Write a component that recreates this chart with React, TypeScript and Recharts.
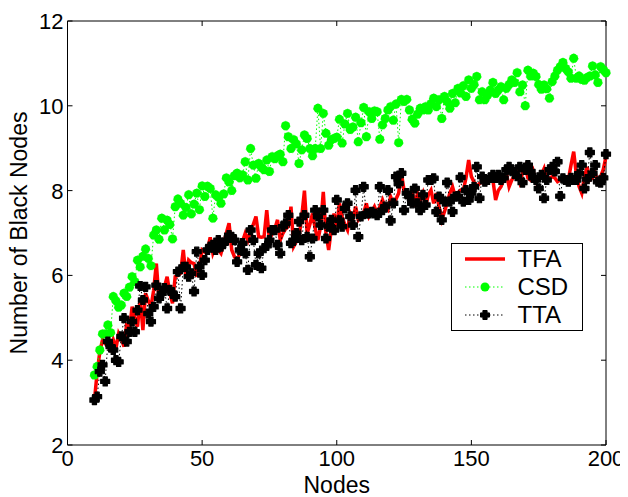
import { LineChart, Line, XAxis, YAxis, ReferenceLine, Legend } from 'recharts';

const firstNode = 10;

const tfa = [
  3.06, 3.7, 4.2, 4.48, 4.4, 4.3, 4.24, 4.48, 4.28, 4.63,
  4.5, 4.32, 4.87, 4.71, 5.26, 5.0, 4.79, 5.46, 4.71, 5.58,
  5.4, 5.26, 5.65, 6.28, 5.42, 5.6, 5.73, 5.97, 5.58, 5.34,
  5.97, 6.0, 6.05, 6.6, 5.97, 6.36, 6.3, 6.28, 5.97, 6.2,
  6.6, 6.55, 6.6, 6.9, 6.52, 6.68, 6.6, 6.52, 6.75, 7.0,
  7.23, 6.6, 6.44, 6.36, 6.52, 6.8, 6.99, 6.83, 7.07, 7.2,
  7.39, 6.91, 6.9, 6.91, 7.54, 6.83, 6.99, 7.1, 7.31, 6.83,
  6.99, 7.1, 7.15, 7.62, 6.68, 6.8, 6.91, 7.39, 8.0, 6.99,
  7.2, 7.46, 7.1, 6.83, 7.15, 7.97, 6.99, 6.6, 7.1, 7.46,
  7.15, 7.7, 7.39, 7.2, 7.07, 7.46, 7.31, 7.62, 7.31, 7.4,
  7.46, 7.7, 7.39, 7.5, 7.62, 7.46, 7.62, 7.78, 7.6, 7.54,
  7.86, 7.7, 7.8, 7.94, 8.41, 8.01, 7.9, 7.78, 8.01, 7.62,
  7.94, 7.78, 7.94, 7.62, 7.9, 8.01, 7.7, 7.94, 7.62, 7.31,
  7.5, 7.7, 7.94, 8.09, 7.86, 7.95, 8.01, 8.0, 8.3, 8.72,
  8.33, 8.2, 8.09, 8.17, 8.2, 8.25, 8.3, 8.33, 8.25, 7.78,
  8.0, 8.09, 8.25, 8.41, 8.09, 8.25, 8.35, 8.49, 8.21, 8.41,
  8.56, 8.3, 8.25, 8.45, 8.21, 8.3, 8.37, 8.52, 8.25, 8.3,
  8.33, 8.3, 8.21, 8.25, 8.33, 8.3, 8.25, 8.6, 8.92, 8.37,
  8.1, 7.94, 8.33, 8.56, 8.25, 8.3, 8.41, 8.21, 8.33, 8.5,
  8.8,
];

const csd = [
  3.65, 3.85, 4.24, 4.62, 4.62, 4.83, 4.65, 5.5, 5.4, 5.25,
  5.3, 5.58, 5.5, 5.72, 5.97, 5.85, 6.36, 6.2, 6.45, 6.62,
  6.4, 6.23, 6.95, 7.07, 6.85, 7.35, 7.07, 7.3, 7.2, 6.86,
  7.62, 7.8, 7.7, 7.42, 7.6, 7.9, 7.45, 7.68, 7.94, 7.55,
  8.11, 7.86, 8.1, 8.05, 7.35, 7.9, 7.85, 7.7, 7.92, 8.3,
  8.2, 8.0, 8.35, 8.41, 8.3, 8.37, 8.68, 8.25, 8.99, 8.6,
  8.29, 8.64, 8.55, 8.49, 8.72, 8.45, 8.8, 8.75, 8.82, 8.86,
  8.68, 9.53, 9.27, 8.99, 9.2, 9.1, 8.64, 8.96, 9.31, 9.23,
  8.99, 8.82, 8.99, 9.94, 8.99, 9.82, 9.35, 9.07, 9.2, 9.23,
  9.26, 9.68, 9.12, 9.57, 9.82, 9.44, 9.5, 9.73, 9.15, 9.6,
  9.96, 9.27, 9.86, 9.7, 9.88, 9.86, 9.21, 9.55, 9.7, 9.9,
  9.98, 9.66, 10.04, 9.13, 10.15, 10.1, 10.15, 9.9, 9.68, 9.59,
  9.8, 9.94, 9.9, 9.98, 9.9, 10.05, 10.18, 9.98, 10.14, 9.7,
  10.22, 10.1, 9.94, 10.29, 10.07, 10.41, 10.3, 10.47, 10.22, 10.61,
  10.41, 10.5, 10.69, 10.14, 10.33, 10.14, 10.25, 10.37, 10.55, 10.29,
  10.37, 10.45, 10.14, 10.41, 10.5, 10.61, 10.55, 10.78, 10.33, 10.49,
  10.0, 10.84, 10.7, 10.77, 10.69, 10.5, 10.39, 10.49, 10.4, 10.18,
  10.57, 10.7, 10.84, 10.92, 11.02, 10.88, 10.8, 10.65, 11.12, 10.65,
  10.7, 10.62, 10.6, 10.67, 10.7, 10.94, 10.73, 10.55, 10.92, 10.85,
  10.78,
];

const tta = [
  3.06, 3.14, 3.73, 3.89, 3.5, 4.44, 4.32, 4.24, 4.0, 3.96,
  4.56, 4.99, 4.44, 4.67, 4.91, 4.67, 5.18, 5.75, 5.42, 5.73,
  5.1, 4.91, 5.26, 5.77, 5.46, 5.58, 5.7, 5.22, 5.66, 5.58,
  5.5, 6.09, 5.22, 6.2, 6.2, 5.97, 6.05, 5.62, 6.56, 6.2,
  6.01, 6.36, 6.6, 6.68, 6.72, 6.6, 6.83, 6.68, 6.76, 6.83,
  6.95, 6.91, 6.83, 6.32, 6.6, 6.76, 6.52, 6.13, 7.07, 6.83,
  6.25, 6.52, 6.17, 6.64, 6.7, 6.83, 7.07, 7.07, 6.72, 6.52,
  7.15, 7.23, 7.42, 6.76, 6.83, 7.0, 7.27, 6.83, 7.42, 6.91,
  6.44, 6.87, 7.54, 7.39, 7.19, 7.54, 6.87, 7.15, 7.31, 7.07,
  7.78, 7.3, 7.15, 7.58, 7.7, 7.39, 7.19, 8.01, 6.91, 7.39,
  8.09, 7.46, 7.46, 7.5, 7.46, 7.42, 8.09, 7.54, 7.62, 8.01,
  7.29, 7.7, 8.33, 8.17, 8.41, 7.54, 7.94, 7.86, 7.7, 8.05,
  7.7, 7.54, 7.9, 7.66, 8.25, 8.25, 8.29, 7.5, 7.86, 7.31,
  7.74, 8.19, 7.74, 7.5, 7.86, 7.87, 8.31, 7.74, 8.01, 7.78,
  7.94, 8.09, 8.56, 7.82, 8.33, 8.21, 8.25, 8.3, 8.37, 8.3,
  8.37, 8.25, 8.3, 8.49, 8.56, 8.49, 8.4, 8.34, 8.56, 8.19,
  8.49, 8.6, 8.45, 8.3, 8.25, 8.05, 8.37, 7.82, 8.25, 8.49,
  8.56, 8.45, 8.68, 7.87, 8.29, 8.25, 8.21, 8.3, 8.25, 8.25,
  8.4, 8.6, 8.05, 8.27, 8.9, 8.41, 8.6, 8.21, 8.19, 8.3,
  8.86,
];

const xTicks = [0, 50, 100, 150, 200];
const yTicks = [2, 4, 6, 8, 10, 12];

const data = tfa.map((v, i) => ({ nodes: firstNode + i, TFA: v, CSD: csd[i], TTA: tta[i] }));

const W = 628;
const H = 497;
const margin = { top: 21, right: 22, bottom: 0, left: 7.5 };
const yAxisW = 60;
const xAxisH = 52;
const plotTop = margin.top;
const plotRight = W - margin.right;
const font = '"Liberation Sans", Arial, Helvetica, sans-serif';
const green = '#00ff00';

// MATLAB style: ticks point inward and repeat on the opposite side
const XTick = (props: any) => {
  const { x, y, payload } = props;
  return (
    <g>
      <line x1={x} y1={y} x2={x} y2={y - 5} stroke="#000" />
      <line x1={x} y1={plotTop} x2={x} y2={plotTop + 5} stroke="#000" />
      <text x={x} y={y + 21} textAnchor="middle" fontSize={22} fontFamily={font} fill="#000">
        {payload.value}
      </text>
    </g>
  );
};

const YTick = (props: any) => {
  const { x, y, payload } = props;
  return (
    <g>
      <line x1={x} y1={y} x2={x + 5} y2={y} stroke="#000" />
      <line x1={plotRight} y1={y} x2={plotRight - 5} y2={y} stroke="#000" />
      <text x={x - 4} y={y + 8} textAnchor="end" fontSize={22} fontFamily={font} fill="#000">
        {payload.value}
      </text>
    </g>
  );
};

const plusPath = (cx: number, cy: number) => {
  const a = 4.5;
  const t = 2.1;
  return `M${cx - t},${cy - a}H${cx + t}V${cy - t}H${cx + a}V${cy + t}H${cx + t}V${cy + a}H${cx - t}V${cy + t}H${cx - a}V${cy - t}H${cx - t}Z`;
};

const PlusDot = (props: any) => {
  const { cx, cy, index } = props;
  if (cx == null || cy == null) return <g key={`tta-${index}`} />;
  return (
    <path
      key={`tta-${index}`}
      d={plusPath(cx, cy)}
      fill="#000"
      stroke="#000"
      strokeWidth={1.2}
      strokeLinejoin="round"
    />
  );
};

const LegendBox = () => {
  const rows = [
    { name: 'TFA', kind: 'tfa' },
    { name: 'CSD', kind: 'csd' },
    { name: 'TTA', kind: 'tta' },
  ];
  return (
    <div
      style={{
        position: 'relative',
        width: 132,
        height: 88,
        border: '1px solid #000',
        background: '#fff',
        boxSizing: 'border-box',
        fontFamily: font,
        fontSize: 24,
        color: '#000',
      }}
    >
      {rows.map((r, i) => (
        <div
          key={r.name}
          style={{ position: 'absolute', left: 0, top: 1 + i * 28, height: 28, width: 130, display: 'flex', alignItems: 'center' }}
        >
          <svg width={42} height={14} style={{ position: 'absolute', left: 12, top: 7 }}>
            {r.kind === 'tfa' && <line x1={1} y1={7} x2={41} y2={7} stroke="#ff0000" strokeWidth={3.5} />}
            {r.kind === 'csd' && (
              <>
                <line x1={1} y1={7} x2={41} y2={7} stroke={green} strokeWidth={1} strokeDasharray="1.5 2.5" />
                <circle cx={21} cy={7} r={4.5} fill={green} />
              </>
            )}
            {r.kind === 'tta' && (
              <>
                <line x1={1} y1={7} x2={41} y2={7} stroke="#000" strokeWidth={1} strokeDasharray="1.5 2.5" />
                <path d={plusPath(21, 7)} fill="#000" stroke="#000" strokeWidth={1} strokeLinejoin="round" />
              </>
            )}
          </svg>
          <span style={{ position: 'absolute', left: 66, lineHeight: '28px' }}>{r.name}</span>
        </div>
      ))}
    </div>
  );
};

export default function App() {
  return (
    <div style={{ marginLeft: -8, marginTop: -8, width: W, height: H, background: '#fff' }}>
      <LineChart width={W} height={H} data={data} margin={margin}>
        <XAxis
          dataKey="nodes"
          type="number"
          domain={[0, 200]}
          ticks={xTicks}
          interval={0}
          height={xAxisH}
          tickSize={0}
          tickMargin={0}
          tickLine={false}
          axisLine={{ stroke: '#000' }}
          tick={XTick}
          label={{ value: 'Nodes', position: 'insideBottom', offset: 4, fontSize: 23, fontFamily: font, fill: '#000' }}
        />
        <YAxis
          type="number"
          domain={[2, 12]}
          ticks={yTicks}
          interval={0}
          width={yAxisW}
          tickSize={0}
          tickMargin={0}
          tickLine={false}
          axisLine={{ stroke: '#000' }}
          tick={YTick}
          label={{
            value: 'Number of Black Nodes',
            angle: -90,
            position: 'insideLeft',
            offset: 11,
            fontSize: 23,
            fontFamily: font,
            fill: '#000',
            style: { textAnchor: 'middle' },
          }}
        />
        <ReferenceLine y={12} stroke="#000" ifOverflow="extendDomain" />
        <ReferenceLine x={200} stroke="#000" ifOverflow="extendDomain" />
        <Line
          dataKey="TFA"
          type="linear"
          stroke="#ff0000"
          strokeWidth={3.5}
          dot={false}
          activeDot={false}
          isAnimationActive={false}
        />
        <Line
          dataKey="CSD"
          type="linear"
          stroke={green}
          strokeWidth={1}
          strokeDasharray="1.5 2.5"
          dot={{ r: 4.5, fill: green, stroke: green, strokeWidth: 0.5 }}
          activeDot={false}
          isAnimationActive={false}
        />
        <Line
          dataKey="TTA"
          type="linear"
          stroke="#000"
          strokeWidth={1}
          strokeDasharray="1.5 2.5"
          dot={PlusDot}
          activeDot={false}
          isAnimationActive={false}
        />
        <Legend
          layout="vertical"
          align="center"
          verticalAlign="middle"
          content={LegendBox}
          wrapperStyle={{ left: 450.5, top: 242.5, width: 132, height: 88 }}
        />
      </LineChart>
    </div>
  );
}
